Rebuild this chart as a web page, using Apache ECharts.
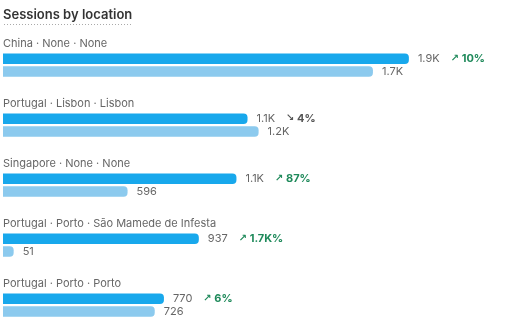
<!DOCTYPE html>
<html>
<head>
<meta charset="utf-8">
<script src="https://cdn.jsdelivr.net/npm/echarts@6/dist/echarts.min.js"></script>
<style>html,body{margin:0;padding:0;background:#fff}#c{width:515px;height:324px}</style>
</head>
<body>
<div id="c"></div>
<script>
const categories = ['China · None · None', 'Portugal · Lisbon · Lisbon', 'Singapore · None · None', 'Portugal · Porto · São Mamede de Infesta', 'Portugal · Porto · Porto'];
const currentValues = [1942, 1170, 1117, 937, 770];
const previousValues = [1770, 1223, 596, 51, 726];

function fmt(v) {
  if (v >= 1000) return (Math.floor(v / 100) / 10) + 'K';
  return String(v);
}
function changeText(i) {
  const c = currentValues[i], p = previousValues[i];
  const pct = (c - p) / p * 100;
  const a = Math.abs(pct);
  const t = a >= 1000 ? (Math.floor(a / 100) / 10) + 'K%' : Math.round(a) + '%';
  return { up: pct >= 0, t: t };
}

const FONT = 'Inter, "DejaVu Sans", sans-serif';
const chart = echarts.init(document.getElementById('c'), null, { renderer: 'canvas' });
chart.setOption({
  animation: false,
  title: {
    text: 'Sessions by location',
    left: 3, top: 9, padding: 0,
    textStyle: { fontFamily: FONT, fontSize: 13, fontWeight: 600, color: '#333' }
  },
  graphic: [{
    type: 'line', shape: { x1: 4, y1: 24.5, x2: 133, y2: 24.5 },
    style: { stroke: '#aaa', lineWidth: 1, lineDash: [1, 2] }
  }],
  grid: { left: 3, top: 65.1, width: 501.6, height: 240, containLabel: false },
  xAxis: { type: 'value', min: 0, max: 2400, show: false },
  yAxis: {
    type: 'category', data: categories, inverse: true, boundaryGap: false,
    axisLine: { show: false }, axisTick: { show: false },
    axisLabel: {
      inside: true, margin: 0, align: 'left', verticalAlign: 'bottom',
      lineHeight: 43,
      fontFamily: FONT, fontSize: 11, color: '#666'
    }
  },
  series: [{
    type: 'bar', data: currentValues, barWidth: 10.5, barGap: '22%',
    itemStyle: { color: '#18a8ec', borderRadius: [0, 4, 4, 0] },
    label: {
      show: true, position: 'right', distance: 9,
      formatter: function (p) {
        const c = changeText(p.dataIndex);
        return '{v|' + fmt(p.value) + '}' + (c.up ? '{ua|↗}{u| ' + c.t + '}' : '{da|↘}{d| ' + c.t + '}');
      },
      rich: {
        v: { fontFamily: FONT, fontSize: 11, color: '#666', padding: [0, 11, 0, 0] },
        ua: { fontFamily: '"DejaVu Sans", sans-serif', fontSize: 10, fontWeight: 'bold', color: '#1f8a5b' },
        u: { fontFamily: FONT, fontSize: 11, fontWeight: 700, color: '#1f8a5b' },
        da: { fontFamily: '"DejaVu Sans", sans-serif', fontSize: 10, fontWeight: 'bold', color: '#555' },
        d: { fontFamily: FONT, fontSize: 11, fontWeight: 700, color: '#555' }
      }
    }
  }, {
    type: 'bar', data: previousValues, barWidth: 10.5,
    itemStyle: { color: '#8ccaee', borderRadius: [0, 4, 4, 0] },
    label: {
      show: true, position: 'right', distance: 9,
      formatter: function (p) { return fmt(p.value); },
      fontFamily: FONT, fontSize: 11, color: '#666'
    }
  }]
});
</script>
</body>
</html>
